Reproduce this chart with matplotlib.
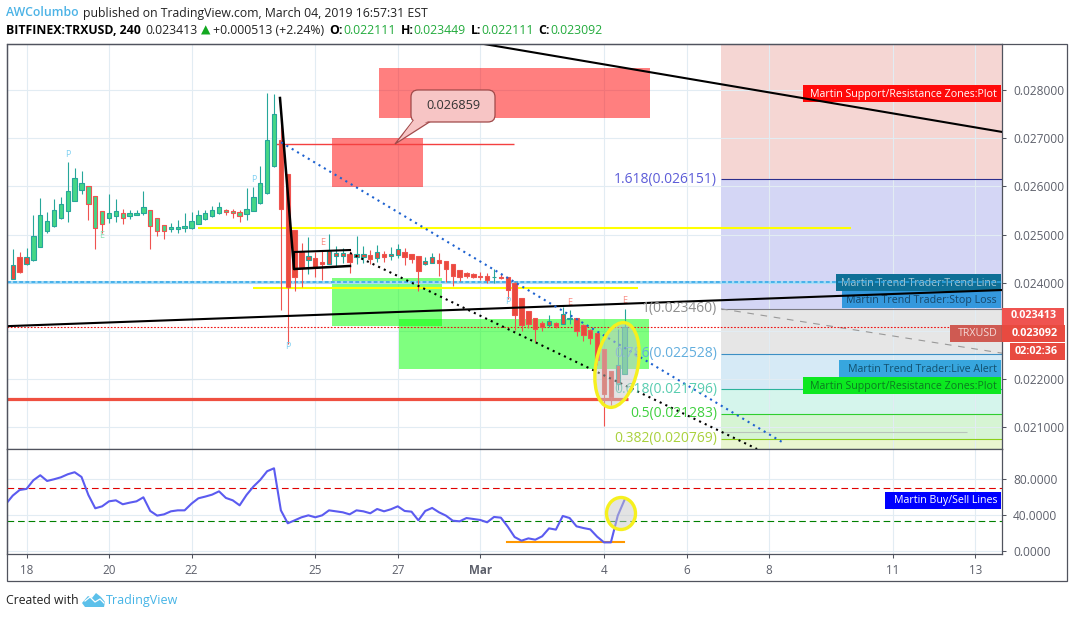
#!/usr/bin/env python3

import numpy as np
import pandas as pd
import matplotlib
matplotlib.use("Agg")
import matplotlib.pyplot as plt
from matplotlib.patches import Rectangle, Ellipse, Polygon, FancyBboxPatch
from matplotlib.ticker import FuncFormatter

plt.rcParams['font.family'] = ['Open Sans', 'DejaVu Sans']

# prices are in thousandths of a dollar (24.07 == 0.024070)
opens = [24.07, 24.54, 24.38, 24.47, 24.74, 25.07, 25.17, 25.34, 25.48, 25.69,
         25.92, 26.00, 25.81, 25.48, 25.35, 25.39, 25.44, 25.39, 25.41, 25.44,
         25.50, 25.34, 25.19, 25.12, 25.12, 25.14, 25.14, 25.21, 25.32, 25.38,
         25.44, 25.50, 25.48, 25.46, 25.42, 25.48, 25.65, 25.86, 26.42, 26.96,
         26.25, 25.10, 24.63, 24.47, 24.51, 24.43, 24.40, 24.55, 24.56, 24.60,
         24.53, 24.54, 24.58, 24.51, 24.60, 24.56, 24.58, 24.63, 24.60, 24.56,
         24.40, 24.42, 24.47, 24.46, 24.39, 24.26, 24.20, 24.18, 24.15, 24.14,
         24.11, 24.12, 24.11, 23.99, 23.68, 23.41, 23.28, 23.16, 23.12, 23.16,
         23.15, 23.24, 23.27, 23.13, 23.03, 22.95, 22.62, 22.17, 21.90, 22.10]
highs = [24.70, 24.63, 24.72, 25.41, 25.76, 25.47, 25.74, 25.78, 26.50, 26.38,
         26.32, 26.00, 25.81, 25.48, 25.84, 25.73, 25.54, 25.52, 25.50, 25.90,
         25.50, 25.34, 25.19, 25.25, 25.30, 25.44, 25.47, 25.50, 25.50, 25.59,
         25.68, 25.54, 25.54, 25.52, 25.97, 25.99, 26.42, 27.93, 27.91, 27.39,
         26.26, 25.10, 24.82, 24.94, 24.63, 24.68, 25.01, 24.76, 24.72, 24.65,
         24.97, 24.76, 24.69, 24.78, 24.66, 24.75, 24.81, 24.72, 24.60, 24.56,
         24.53, 24.61, 24.61, 24.46, 24.39, 24.26, 24.23, 24.21, 24.22, 24.20,
         24.28, 24.18, 24.11, 24.02, 23.68, 23.41, 23.28, 23.21, 23.33, 23.19,
         23.50, 23.44, 23.28, 23.15, 23.05, 22.95, 22.62, 22.17, 23.04, 23.45]
lows = [24.07, 24.21, 24.36, 24.46, 24.74, 25.04, 25.16, 25.33, 25.26, 25.69,
        25.85, 25.30, 24.70, 25.03, 25.24, 25.27, 25.21, 25.33, 25.41, 25.41,
        24.70, 24.97, 24.91, 25.05, 25.03, 25.05, 25.12, 25.21, 25.31, 25.37,
        25.43, 25.41, 25.34, 25.26, 25.30, 25.48, 25.64, 25.85, 26.41, 23.44,
        22.74, 23.82, 23.91, 24.18, 24.13, 24.06, 24.39, 24.33, 24.41, 24.21,
        24.40, 24.42, 24.40, 24.44, 24.44, 24.47, 24.51, 24.37, 24.42, 23.82,
        24.37, 24.41, 24.15, 24.01, 23.94, 24.04, 24.09, 24.10, 24.06, 23.99,
        24.00, 24.07, 23.66, 23.02, 23.00, 23.07, 22.78, 23.00, 23.09, 23.06,
        23.14, 23.14, 22.90, 22.80, 22.74, 22.30, 21.03, 21.46, 21.77, 22.10]
closes = [24.36, 24.22, 24.54, 24.98, 25.40, 25.28, 25.50, 25.63, 25.90, 26.17,
          26.06, 25.63, 25.13, 25.23, 25.44, 25.48, 25.35, 25.44, 25.45, 25.57,
          25.17, 25.07, 25.07, 25.16, 25.16, 25.17, 25.28, 25.40, 25.44, 25.50,
          25.57, 25.46, 25.44, 25.38, 25.54, 25.79, 26.06, 26.96, 27.50, 25.54,
          23.92, 24.13, 24.33, 24.55, 24.32, 24.40, 24.65, 24.61, 24.62, 24.44,
          24.60, 24.60, 24.49, 24.64, 24.54, 24.60, 24.70, 24.54, 24.49, 24.25,
          24.45, 24.53, 24.41, 24.29, 24.14, 24.11, 24.14, 24.12, 24.12, 24.06,
          24.12, 24.10, 23.86, 23.33, 23.12, 23.15, 23.04, 23.09, 23.21, 23.10,
          23.35, 23.27, 23.00, 22.91, 22.85, 22.40, 21.69, 21.64, 22.30, 23.09]

# oscillator, starts one bar before the first candle
rsi = [52.3, 61.7, 68.0, 69.2, 78.9, 84.5, 78.1, 80.0, 82.2, 85.6, 87.9, 82.6, 62.4,
       47.5, 49.7, 55.3, 56.4, 52.0, 53.8, 55.3, 59.8, 44.5, 39.3, 40.7, 44.1, 45.2,
       45.2, 52.7, 58.7, 60.6, 62.8, 66.5, 59.1, 56.4, 50.8, 62.4, 71.8, 79.3, 89.0,
       92.3, 45.2, 30.7, 34.0, 37.4, 39.6, 37.4, 39.6, 45.2, 44.1, 43.0, 40.7, 45.2,
       44.1, 41.9, 46.7, 44.1, 46.4, 49.7, 44.5, 43.7, 34.0, 44.5, 47.9, 43.0, 39.3,
       33.6, 32.9, 36.6, 35.5, 34.4, 31.8, 37.8, 37.0, 26.9, 15.3, 11.2, 13.8, 12.3,
       16.1, 25.0, 23.6, 38.9, 36.6, 27.3, 25.4, 23.9, 15.7, 9.3, 9.3, 39.3, 57.2]

day_ticks = [0, 2, 4, 7, 9, 11, 14, 16, 18, 21, 23]
day_labels = ['18', '20', '22', '25', '27', 'Mar', '4', '6', '8', '11', '13']
price_ticks = [21, 22, 23, 24, 25, 26, 27, 28]
rsi_ticks = [0, 40, 80]

fib_names = ['1.618', '1', '0.786', '0.618', '0.5', '0.382']
fib_prices = [26.151, 23.460, 22.528, 21.796, 21.283, 20.769]
fib_text = ['#5c5cd8', '#8f8f8f', '#62aede', '#58cdb0', '#3ed03e', '#a9d13c']
fib_line = ['#2b2e8c', '#7b7b85', '#3c8fc4', '#2cb39b', '#2fce2f', '#8ccf18']
fib_fill = ['#d4d6f5', '#e6e6e6', '#d6eaf6', '#d5f5ec', '#d6f4d3', '#e9f5d0']

pivot_p = [(1.0, 26.66), (5.5, 26.14), (6.33, 22.68), (11.67, 23.62)]
pivot_e = [(1.83, 24.98, '#8fe0b4'), (7.17, 24.83, '#f98d84'),
           (13.17, 23.60, '#f98d84'), (14.5, 23.63, '#f98d84')]

times = pd.date_range('2019-02-17 12:00', periods=91, freq='4h')
rsi_days = np.array((times - pd.Timestamp('2019-02-18')) / pd.Timedelta(days=1))
bar_days = rsi_days[1:]

TEAL = '#26a69a'
RED = '#ef5350'
GRID = '#e2ecf3'
FRAME = '#50535e'
TICK = '#5d606b'

X_MIN, X_MAX = -0.485, 23.648
W, H = 1073, 618

fig = plt.figure(figsize=(W / 100, H / 100), dpi=100, facecolor='white')


def pane(x0, y0, x1, y1):
    return fig.add_axes([x0 / W, 1 - y1 / H, (x1 - x0) / W, (y1 - y0) / H])


ax = pane(6.5, 44, 1002, 449)
low = pane(6.5, 449, 1002, 554)
top = fig.add_axes([0, 0, 1, 1], zorder=10)
top.set_xlim(0, W)
top.set_ylim(H, 0)
top.axis('off')
top.patch.set_alpha(0)
pix = top.transData

for a in (ax, low):
    a.set_xlim(X_MIN, X_MAX)
    a.set_axisbelow(True)
    a.grid(True, color=GRID, lw=0.8)
    a.set_xticks(day_ticks)
    a.yaxis.tick_right()
    a.tick_params(axis='y', length=3, width=0.75, color=FRAME, labelcolor=TICK, labelsize=8.6, pad=5)
    a.tick_params(axis='x', length=3, width=0.75, color=FRAME, labelcolor=TICK, labelsize=8.4, pad=4)
    for s in a.spines.values():
        s.set_color(FRAME)
        s.set_linewidth(0.9)

ax.set_ylim(20.552, 28.954)
ax.set_yticks(price_ticks)
# the 0.023000 label sits under the last price tags
ax.yaxis.set_major_formatter(FuncFormatter(lambda v, _: "" if v == 23 else "%.6f" % (v / 1000)))
ax.tick_params(axis='x', length=0, labelbottom=False)

low.set_ylim(-3.7, 113.9)
low.set_yticks(rsi_ticks)
low.yaxis.set_major_formatter(FuncFormatter(lambda v, _: "%.4f" % v))
low.set_xticklabels(day_labels)
low.get_xticklabels()[5].set_fontweight('bold')

# fib zones on the right side
FIB_X = 16.836
FIB_END = X_MAX
edges = [ax.get_ylim()[1]] + fib_prices + [ax.get_ylim()[0]]
zone_fill = ['#f5d6d3'] + fib_fill
for i, c in enumerate(zone_fill):
    ax.fill_between([FIB_X, FIB_END], edges[i + 1], edges[i], color=c, lw=0, zorder=0.2)
for name, price, tc, lc in zip(fib_names, fib_prices, fib_text, fib_line):
    ax.hlines(price, FIB_X, FIB_END, color=lc, lw=0.8, zorder=2)
    ax.annotate("%s(%.6f)" % (name, price / 1000), (FIB_X, price), xytext=(-3, 0),
                textcoords='offset points', ha='right', va='center', color=tc,
                fontsize=10, zorder=5)
ax.hlines(20.91, FIB_X, 22.8, color='#b9c4bc', lw=0.8, zorder=2)
ax.plot([FIB_X, X_MAX], [23.46, 22.54], color='#999999', lw=0.8, ls=(0, (6, 6)), zorder=2)

# support / resistance zones
for (d0, d1, p0, p1, c) in [(8.545, 15.115, 27.419, 28.456, '#ff0000'),
                            (7.406, 9.612, 25.988, 27.004, '#ff0000'),
                            (7.406, 10.07, 23.10, 24.10, '#00ff00'),
                            (9.04, 15.10, 22.205, 23.243, '#00ff00')]:
    ax.add_patch(Rectangle((d0, p0), d1 - d0, p1 - p0, color=c, alpha=0.5, lw=0, zorder=1))


def pine_label(x0, x1, y0, y1, fill, text, color, fontweight='normal'):
    ax.add_patch(Rectangle((x0, y0), x1 - x0, y1 - y0, transform=pix, facecolor=fill,
                           lw=0, zorder=2.5, clip_on=False))
    ax.text(x1 - 4, (y0 + y1) / 2 + 0.5, text, transform=pix, color=color, ha='right',
            va='center', fontsize=7.7, fontweight=fontweight, zorder=2.6, clip_on=False)


pine_label(803, 1001, 85, 102, '#ff0a0a', 'Martin Support/Resistance Zones:Plot', 'white')
pine_label(836, 1001, 274, 291, '#0e6f96', 'Martin Trend Trader:Trend Line', '#a9c9d6')
pine_label(842, 1001, 291, 308, '#3498dd', 'Martin Trend Trader:Stop Loss', '#17486b')
pine_label(839, 1001, 360, 377, '#37a6de', 'Martin Trend Trader:Live Alert', '#12506e')
pine_label(803, 1001, 377, 394, '#0ce820', 'Martin Support/Resistance Zones:Plot', '#0b7a20')
pine_label(950, 1002, 325, 342, '#cf5a52', 'TRXUSD', '#f4d9d6')

# horizontal levels
ax.hlines(24.01, X_MIN, X_MAX, color='#a9dcf6', lw=2.2, zorder=2)
ax.hlines(24.01, X_MIN, X_MAX, color='#2ea6e8', lw=1.1, ls=(0, (2.5, 1.5)), zorder=2.7)
ax.hlines(25.13, 4.157, 19.99, color='#ffff00', lw=1.5, zorder=2.2)
ax.hlines(23.89, 5.49, 14.82, color='#ffff00', lw=1.5, zorder=2.2)
ax.hlines(21.579, X_MIN, 14.58, color='#ef5040', lw=2.3, zorder=2.2)
ax.hlines(23.092, X_MIN, 22.4, color='#f01010', lw=0.8, ls=(0, (1.5, 1.5)), zorder=2.2)
ax.hlines(26.87, 5.98, 11.82, color='#f44040', lw=1, zorder=2.2)

# candles, the script on the chart paints the bodies separately from the borders
borders = [TEAL if c >= o else RED for o, c in zip(opens, closes)]
fills = ['#ea4a3c'] * 3 + ['#45d686'] * 36 + ['#ea4a3c'] * 50 + ['#45d686']
body_low = np.minimum(opens, closes)
body_h = np.abs(np.array(closes) - np.array(opens))
ax.vlines(bar_days, lows, highs, colors=borders, lw=0.8, zorder=3)
ax.bar(bar_days, body_h, bottom=body_low, width=0.105, color=fills, edgecolor=borders,
       lw=0.8, zorder=3.1)

for d, p in pivot_p:
    ax.text(d, p, 'P', color='#7fd0f2', fontsize=6.5, ha='center', va='center', zorder=3.5)
for d, p, c in pivot_e:
    ax.text(d, p, 'E', color=c, fontsize=6.5, ha='center', va='center', zorder=3.5)

# trend lines drawn by hand on the chart
ax.plot([X_MIN, X_MAX], [23.10, 23.85], color='black', lw=1.5, zorder=4)
ax.plot([11.09, X_MAX], [28.954, 27.13], color='black', lw=1.5, zorder=4)
ax.plot([6.145, 6.485, 7.842], [27.834, 24.286, 24.349], color='black', lw=1.8, zorder=4)
ax.plot([6.485, 6.485, 7.842], [24.286, 24.639, 24.680], color='black', lw=1.5, zorder=4)
ax.plot([6.17, 18.315], [26.915, 20.697], color='#1e62d0', lw=1.5, ls=(0, (1, 2)), zorder=4)
ax.plot([7.842, 17.71], [24.618, 20.552], color='black', lw=1.5, ls=(0, (1, 2)), zorder=4)

# callout
top.add_patch(Polygon([(395, 144), (413, 121), (431, 121)], facecolor='#f7c5c5',
                      edgecolor='#a04a4a', lw=0.9))
top.add_patch(FancyBboxPatch((416, 95), 74, 22, boxstyle='round,pad=5,rounding_size=7',
                             facecolor='#f7c5c5', edgecolor='#a04a4a', lw=0.9))
top.add_patch(Polygon([(403, 135), (414, 120), (430, 120)], facecolor='#f7c5c5', lw=0))
top.text(453, 105.5, '0.026859', ha='center', va='center', fontsize=9.2, color='#333333')

# oscillator pane
low.plot(rsi_days, rsi, color='#5b5bf0', lw=1.5, zorder=3)
low.axhline(70, color='#e00000', lw=0.8, ls=(0, (6, 3.5)), zorder=2)
low.axhline(33, color='#008000', lw=0.8, ls=(0, (6, 3.5)), zorder=2)
low.plot([11.655, 14.485], [10.1, 10.1], color='#ff9800', lw=1.5, zorder=2.5)
top.add_patch(Rectangle((885, 492), 116, 17, facecolor='#0000ff', lw=0))
top.text(997, 501, 'Martin Buy/Sell Lines', color='white', ha='right', va='center', fontsize=7.7)

# highlight ellipses
for c, wd, ht, ang in [((617, 365), 42, 86, 11), ((621, 513.5), 29, 32, 0)]:
    top.add_patch(Ellipse(c, wd, ht, angle=ang, facecolor='#c8c8c8', alpha=0.5, lw=0))
    top.add_patch(Ellipse(c, wd, ht, angle=ang, fill=False, edgecolor='#f6f01e', lw=2.4))

# outer frame and price tags
top.add_patch(Rectangle((6.5, 44), 1060, 537, fill=False, edgecolor=FRAME, lw=0.9))
for x0, y0, x1, y1, c, t in [(1002, 308, 1064, 325, '#ef5350', '0.023413'),
                             (1002, 325, 1065, 342, '#e84a40', '0.023092'),
                             (1010, 343, 1065, 360, '#e84a40', '02:02:36')]:
    top.add_patch(Rectangle((x0, y0), x1 - x0, y1 - y0, facecolor=c, lw=0))
    top.text(x1 - 7, (y0 + y1) / 2 - 0.5, t, color='white', ha='right', va='center',
             fontsize=7.8, fontweight='bold')


def run_text(x, y, parts):
    # header has several colours on one line, place the pieces one after another
    renderer = fig.canvas.get_renderer()
    for s, color, weight, gap in parts:
        t = top.text(x, y, s, color=color, fontweight=weight, fontsize=8.8, va='center')
        x = t.get_window_extent(renderer).x1 + gap


DARK = '#222222'
GREEN = '#22ab3c'
run_text(6, 13, [('AWColumbo', '#4cb3e6', 'semibold', 4),
                 ('published on TradingView.com, March 04, 2019 16:57:31 EST', DARK, 'normal', 0)])
run_text(6, 30, [('BITFINEX:TRXUSD, 240', 'black', 'bold', 5),
                 ('0.023413', DARK, 'normal', 3),
                 ('\u25b2', '#12a820', 'normal', 3),
                 ('+0.000513 (+2.24%)', DARK, 'normal', 5),
                 ('O:', 'black', 'bold', 0), ('0.022111', GREEN, 'normal', 5),
                 ('H:', 'black', 'bold', 0), ('0.023449', GREEN, 'normal', 5),
                 ('L:', 'black', 'bold', 0), ('0.022111', GREEN, 'normal', 5),
                 ('C:', 'black', 'bold', 0), ('0.023092', GREEN, 'normal', 0)])

# footer with the logo
top.text(6, 600.5, 'Created with', color=DARK, fontsize=8.8, va='center')
top.add_patch(Polygon([(82, 603), (88, 596), (92, 598), (96, 593), (101, 597), (105, 602),
                       (104, 607), (85, 607)], facecolor='#5cc0ea', lw=0))
top.plot([85, 90, 95, 100, 104], [601, 597, 602, 599, 603], color='white', lw=0.9)
top.text(106, 600.5, 'TradingView', color='#45b4e6', fontsize=9.0, va='center')

fig.savefig('out.png', dpi=100, facecolor='white')
